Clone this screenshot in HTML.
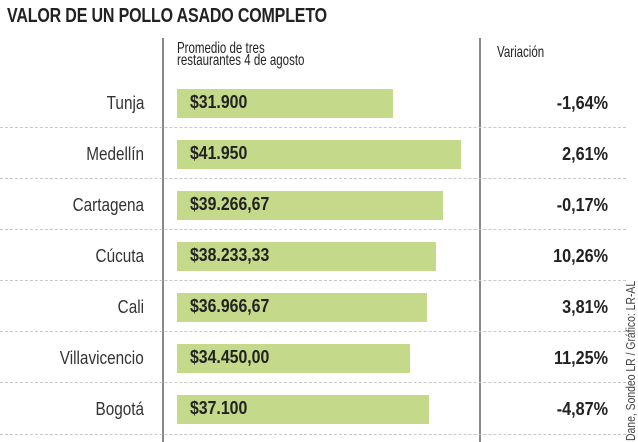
<!DOCTYPE html>
<html><head><meta charset="utf-8"><style>
body{margin:0;width:638px;height:442px;background:#fff;position:relative;overflow:hidden;font-family:"Liberation Sans",sans-serif;color:#222}
.a{position:absolute;white-space:nowrap}
.t{left:7px;top:5px;font-size:20px;font-weight:bold;transform:scaleX(0.8);transform-origin:left top;letter-spacing:-0.2px}
.v{position:absolute;top:38px;width:2px;height:404px;background:#888}
.d{position:absolute;left:0;width:626px;border-top:1.5px dashed #c8c8c8}
.c{right:494px;font-size:18px;transform:scaleX(0.85);transform-origin:right center;color:#333}
.b{position:absolute;left:177px;height:29px;background:#c5d98a}
.n{left:190px;font-size:18px;font-weight:bold;transform:scaleX(0.88);transform-origin:left center}
.p{right:30px;font-size:18px;font-weight:bold;transform:scaleX(0.9);transform-origin:right center}
.h{font-size:16px;transform:scaleX(0.72);transform-origin:left top;line-height:12px}
</style></head><body>
<div class="a t">VALOR DE UN POLLO ASADO COMPLETO</div>
<div class="v" style="left:162px"></div>
<div class="v" style="left:479px"></div>
<div class="a h" style="left:177px;top:43px">Promedio de tres<br>restaurantes 4 de agosto</div>
<div class="a h" style="left:497px;top:47px">Variación</div>
<div class="d" style="top:127px"></div><div class="d" style="top:178px"></div><div class="d" style="top:229px"></div><div class="d" style="top:280px"></div><div class="d" style="top:331px"></div><div class="d" style="top:382px"></div><div class="d" style="top:434px"></div>

<div class="a c" style="top:93px">Tunja</div><div class="b" style="top:89px;width:216px"></div><div class="a n" style="top:92px">$31.900</div><div class="a p" style="top:93px">-1,64%</div>
<div class="a c" style="top:144px">Medellín</div><div class="b" style="top:140px;width:284px"></div><div class="a n" style="top:143px">$41.950</div><div class="a p" style="top:144px">2,61%</div>
<div class="a c" style="top:195px">Cartagena</div><div class="b" style="top:191px;width:266px"></div><div class="a n" style="top:194px">$39.266,67</div><div class="a p" style="top:195px">-0,17%</div>
<div class="a c" style="top:246px">Cúcuta</div><div class="b" style="top:242px;width:259px"></div><div class="a n" style="top:245px">$38.233,33</div><div class="a p" style="top:246px">10,26%</div>
<div class="a c" style="top:297px">Cali</div><div class="b" style="top:293px;width:250px"></div><div class="a n" style="top:296px">$36.966,67</div><div class="a p" style="top:297px">3,81%</div>
<div class="a c" style="top:348px">Villavicencio</div><div class="b" style="top:344px;width:233px"></div><div class="a n" style="top:347px">$34.450,00</div><div class="a p" style="top:348px">11,25%</div>
<div class="a c" style="top:399px">Bogotá</div><div class="b" style="top:395px;width:252px"></div><div class="a n" style="top:398px">$37.100</div><div class="a p" style="top:399px">-4,87%</div>

<div class="a" style="left:623px;top:441px;font-size:13px;color:#444;transform:rotate(-90deg) scaleX(0.8);transform-origin:left top">Dane, Sondeo LR / Gráfico: LR-AL</div>
</body></html>
